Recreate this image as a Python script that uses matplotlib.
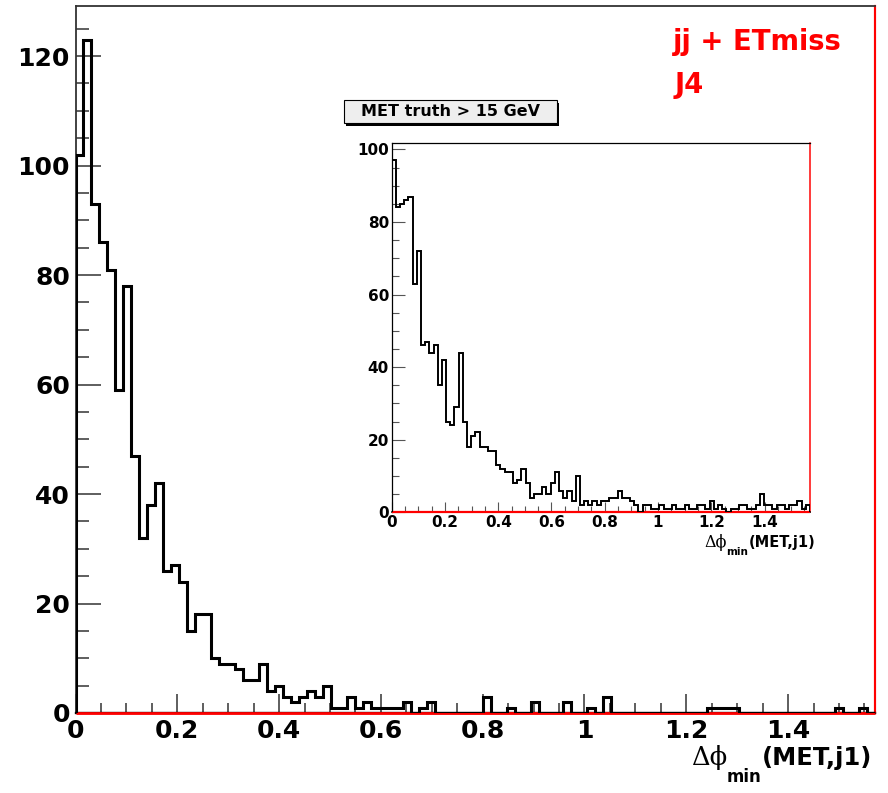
import numpy as np
import matplotlib.pyplot as plt
from matplotlib.patches import Rectangle
from matplotlib.ticker import MultipleLocator, FuncFormatter

plt.rcParams['font.family'] = ['DejaVu Sans']
plt.rcParams['font.weight'] = 'bold'

W, H = 888, 793

# delta-phi_min(MET, j1): 100 bins between 0 and pi/2
edges = np.linspace(0, np.pi / 2, 101)

all_counts = np.array([
    102, 123, 93, 86, 81, 59, 78, 47, 32, 38,
    42, 26, 27, 24, 15, 18, 18, 10, 9, 9,
    8, 6, 6, 9, 4, 5, 3, 2, 3, 4,
    3, 5, 1, 1, 3, 1, 2, 1, 1, 1,
    1, 2, 0, 1, 2, 0, 0, 0, 0, 0,
    0, 3, 0, 0, 1, 0, 0, 2, 0, 0,
    0, 2, 0, 0, 1, 0, 3, 0, 0, 0,
    0, 0, 0, 0, 0, 0, 0, 0, 0, 1,
    1, 1, 1, 0, 0, 0, 0, 0, 0, 0,
    0, 0, 0, 0, 0, 1, 0, 0, 1, 0,
])
all_red = np.zeros(100)

met15_counts = np.array([
    97, 84, 85, 86, 87, 63, 72, 46, 47, 44,
    46, 35, 42, 25, 24, 29, 44, 25, 18, 21,
    22, 18, 18, 17, 17, 13, 12, 11, 11, 8,
    9, 12, 8, 4, 5, 5, 7, 5, 8, 11,
    6, 4, 6, 3, 10, 2, 3, 2, 3, 2,
    3, 3, 4, 4, 6, 4, 4, 3, 2, 0,
    2, 2, 1, 1, 2, 1, 1, 2, 1, 1,
    2, 1, 1, 2, 2, 1, 3, 1, 2, 1,
    0, 1, 1, 2, 2, 1, 1, 2, 5, 2,
    2, 1, 2, 2, 1, 2, 2, 3, 1, 2,
])
met15_red = np.zeros(100)

fig = plt.figure(figsize=(W / 100, H / 100), dpi=100)


def box(x0, y0, x1, y1):
    # pixel box (top-left origin) -> figure fraction rect
    return [x0 / W, 1 - y1 / H, (x1 - x0) / W, (y1 - y0) / H]


def style_frame(a, lw_frame, tick_col):
    for s in ['left', 'top']:
        a.spines[s].set_color(tick_col)
        a.spines[s].set_linewidth(lw_frame)
    a.spines['bottom'].set_color('black')
    a.spines['bottom'].set_linewidth(lw_frame * 1.3)
    a.spines['right'].set_color('red')
    a.spines['right'].set_linewidth(lw_frame * 1.2)
    a.xaxis.set_major_formatter(FuncFormatter(lambda v, p: '%g' % round(v, 2)))
    a.yaxis.set_major_formatter(FuncFormatter(lambda v, p: '%g' % v))


# main histogram
ax = fig.add_axes(box(75.5, 6, 875, 713))
ax.stairs(all_red, edges, color='red', lw=2, zorder=3, clip_on=False)
ax.stairs(all_counts, edges, color='black', lw=2.2, zorder=4)
ax.set_xlim(0, np.pi / 2)
ax.set_ylim(0, 1.05 * all_counts.max())
ax.xaxis.set_major_locator(MultipleLocator(0.2))
ax.xaxis.set_minor_locator(MultipleLocator(0.05))
ax.yaxis.set_major_locator(MultipleLocator(20))
ax.yaxis.set_minor_locator(MultipleLocator(5))
style_frame(ax, 1.3, '#333333')
ax.tick_params(which='both', direction='in', top=False, right=False,
               color='#333333', width=1.1, labelsize=18)
ax.tick_params(axis='x', which='major', length=13.5, pad=4)
ax.tick_params(axis='x', which='minor', length=7)
ax.tick_params(axis='y', which='major', length=18, pad=4)
ax.tick_params(axis='y', which='minor', length=9.5)

# inset: events with MET truth > 15 GeV
ins = fig.add_axes(box(391.7, 142.7, 810, 512.3))
ins.stairs(met15_red, edges, color='red', lw=1.6, zorder=3, clip_on=False)
ins.stairs(met15_counts, edges, color='black', lw=1.4, zorder=4)
ins.set_xlim(0, np.pi / 2)
ins.set_ylim(0, 1.05 * met15_counts.max())
ins.xaxis.set_major_locator(MultipleLocator(0.2))
ins.xaxis.set_minor_locator(MultipleLocator(0.05))
ins.yaxis.set_major_locator(MultipleLocator(20))
ins.yaxis.set_minor_locator(MultipleLocator(5))
style_frame(ins, 0.9, 'black')
ins.tick_params(which='both', direction='in', top=False, right=False,
                color='#555555', width=0.8, labelsize=11)
ins.tick_params(axis='x', which='major', length=7.5, pad=2)
ins.tick_params(axis='x', which='minor', length=4)
ins.tick_params(axis='y', which='major', length=9.5, pad=2)
ins.tick_params(axis='y', which='minor', length=5)

# inset title pave with shadow
fig.patches.append(Rectangle((346 / W, 1 - 126 / H), 213 / W, 23 / H,
                             transform=fig.transFigure, facecolor='black',
                             edgecolor='none', zorder=5))
fig.patches.append(Rectangle((344 / W, 1 - 123 / H), 213 / W, 23 / H,
                             transform=fig.transFigure, facecolor='#eeeeee',
                             edgecolor='black', lw=0.8, zorder=6))
fig.text(450.5 / W, 1 - 112 / H, 'MET truth > 15 GeV', ha='center', va='center',
         fontsize=11.5, zorder=7)

# red labels
fig.text(673 / W, 1 - 50 / H, 'jj + ETmiss', color='red', fontsize=19.8,
         ha='left', va='baseline')
fig.text(675 / W, 1 - 93 / H, 'J4', color='red', fontsize=19.8,
         ha='left', va='baseline')

renderer = fig.canvas.get_renderer()


def dphi_label(right, base, size, sub_size, sub_drop):
    t = fig.text(right / W, 1 - base / H, '(MET,j1)', ha='right',
                 va='baseline', fontsize=size)
    x0 = t.get_window_extent(renderer).x0
    t = fig.text(x0 / W, 1 - (base + sub_drop) / H, 'min', ha='right',
                 va='baseline', fontsize=sub_size)
    x0 = t.get_window_extent(renderer).x0
    fig.text(x0 / W, 1 - base / H, '\u0394\u03d5', ha='right', va='baseline',
             fontsize=size + 1, fontweight='normal', family='DejaVu Serif')


dphi_label(872, 765, 17.5, 12, 17)
dphi_label(815, 547, 10.5, 7.5, 8)

fig.savefig('out.png', dpi=100)
